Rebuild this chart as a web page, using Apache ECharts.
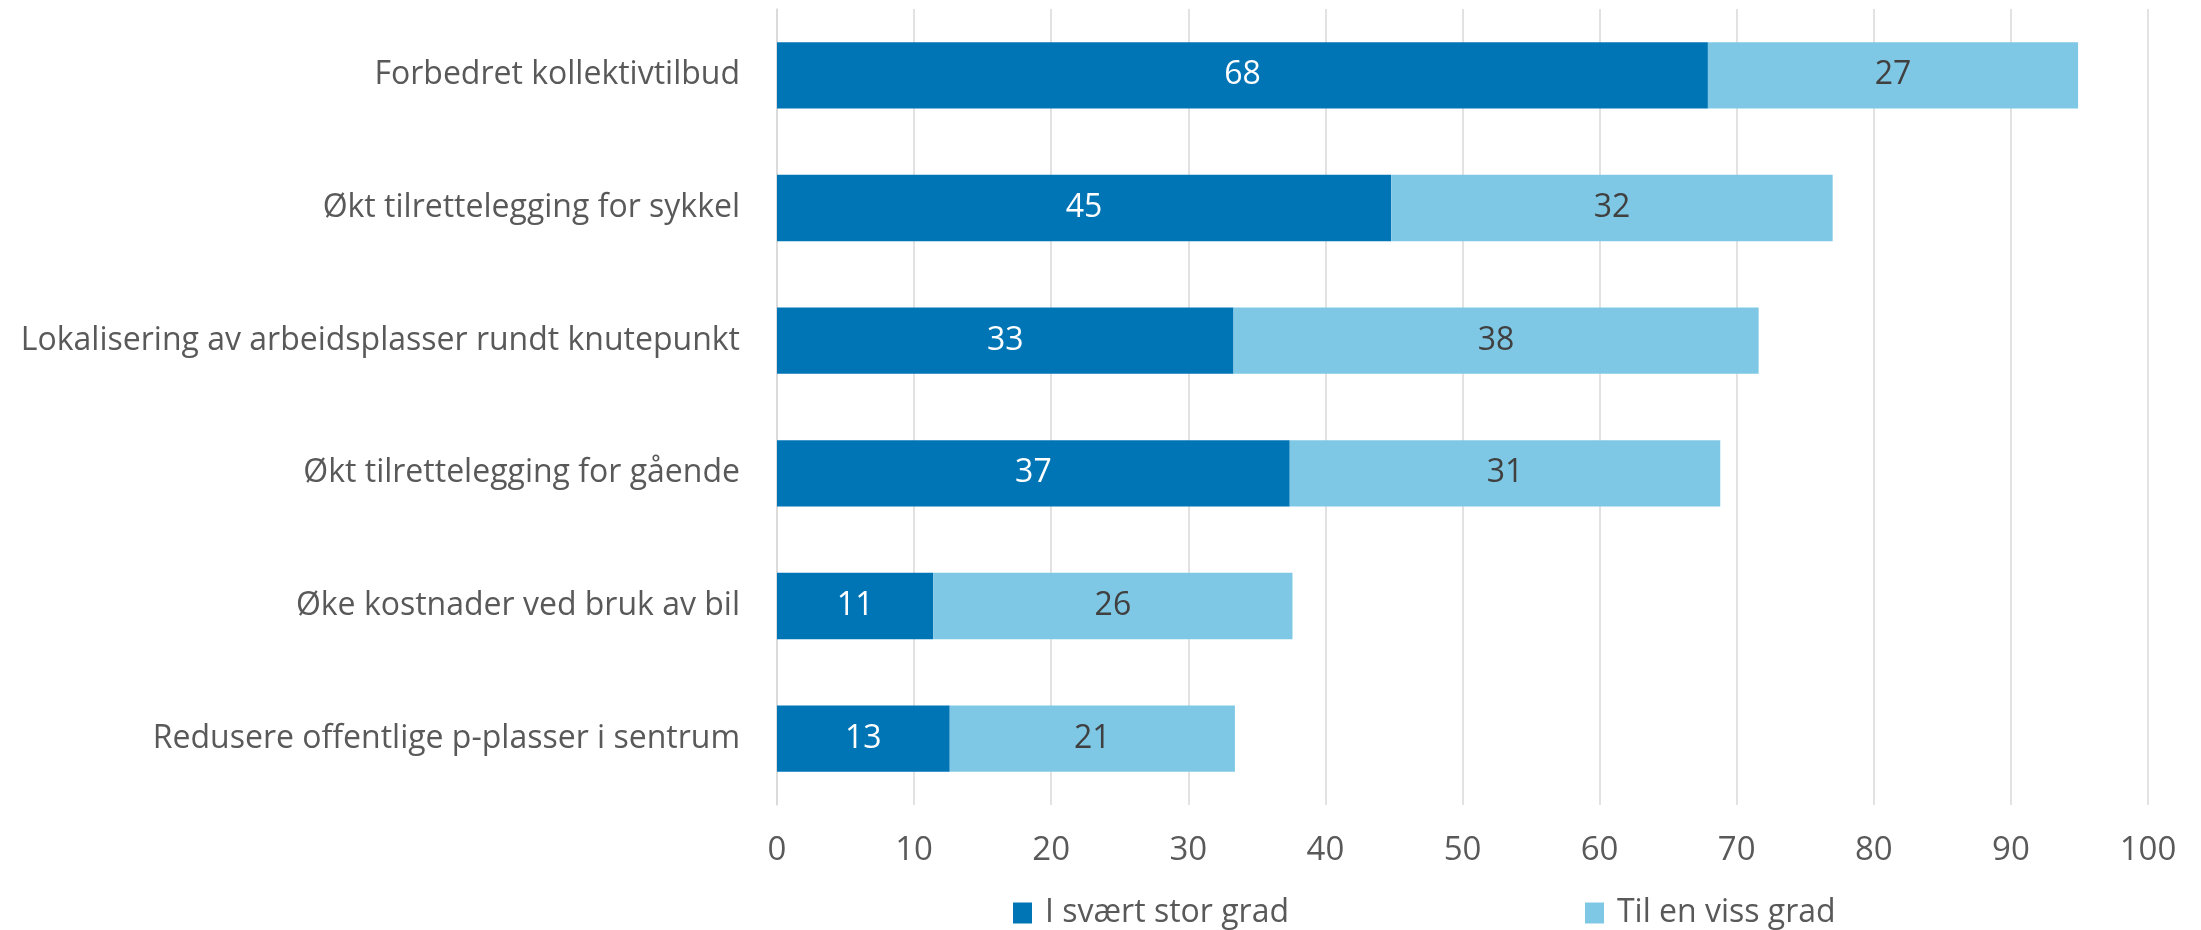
<!DOCTYPE html>
<html><head><meta charset="utf-8">
<script src="https://cdn.jsdelivr.net/npm/echarts@6/dist/echarts.min.js"></script>
<style>html,body{margin:0;padding:0;background:#fff}#c{width:2201px;height:930px}</style>
</head><body><div id="c"></div>
<script>
const categories = [
  "Forbedret kollektivtilbud",
  "Økt tilrettelegging for sykkel",
  "Lokalisering av arbeidsplasser rundt knutepunkt",
  "Økt tilrettelegging for gående",
  "Øke kostnader ved bruk av bil",
  "Redusere offentlige p-plasser i sentrum"
];
const seriesNames = ["I svært stor grad", "Til en viss grad"];
const storGrad = [67.9, 44.8, 33.3, 37.4, 11.4, 12.6];
const vissGrad = [27.0, 32.2, 38.3, 31.4, 26.2, 20.8];
const xTicks = [0, 10, 20, 30, 40, 50, 60, 70, 80, 90, 100];

const FONT = '"Open Sans", sans-serif';
const chart = echarts.init(document.getElementById('c'), null, {renderer: 'canvas'});
chart.setOption({
  animation: false,
  grid: {left: 777, right: 53, top: 9, bottom: 125, containLabel: false},
  xAxis: {
    type: 'value', min: xTicks[0], max: xTicks[xTicks.length - 1], interval: 10,
    axisLine: {show: false}, axisTick: {show: false},
    splitLine: {show: true, lineStyle: {color: '#d9d9d9', width: 1.5}},
    axisLabel: {color: '#595959', fontFamily: FONT, fontSize: 33, margin: 29}
  },
  yAxis: {
    type: 'category', data: categories, inverse: true,
    axisLine: {show: true, lineStyle: {color: '#d9d9d9', width: 1.5}},
    axisTick: {show: false},
    axisLabel: {color: '#595959', fontFamily: FONT, fontSize: 32, margin: 37}
  },
  legend: {
    left: 1008, top: 892, itemWidth: 19, itemHeight: 21, itemGap: 296, icon: 'rect',
    textStyle: {color: '#595959', fontFamily: FONT, fontSize: 32, padding: [0, 0, 0, 8]},
    data: seriesNames
  },
  series: [
    {
      name: seriesNames[0], type: 'bar', stack: 'a', data: storGrad, barCategoryGap: '50%',
      itemStyle: {color: '#0075b6'},
      label: {show: true, position: 'inside', color: '#ffffff', fontFamily: FONT, fontSize: 32,
        formatter: p => Math.round(p.value)}
    },
    {
      name: seriesNames[1], type: 'bar', stack: 'a', data: vissGrad, barCategoryGap: '50%',
      itemStyle: {color: '#7fc8e5'},
      label: {show: true, position: 'inside', color: '#404040', fontFamily: FONT, fontSize: 32,
        formatter: p => Math.round(p.value)}
    }
  ]
});
</script></body></html>
